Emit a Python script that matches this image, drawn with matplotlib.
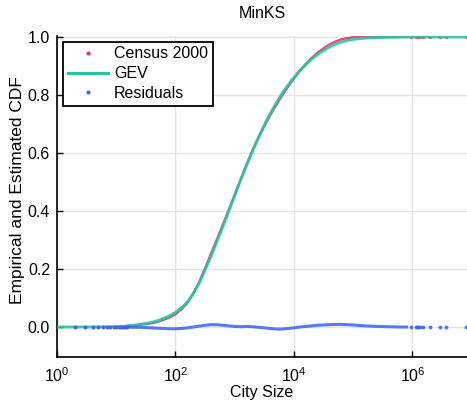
import matplotlib
matplotlib.use("Agg")
import matplotlib.pyplot as plt
from matplotlib.lines import Line2D
from matplotlib.ticker import FixedLocator, NullLocator, FormatStrFormatter
import numpy as np

# log10 city size grid and fitted GEV CDF on that grid
log_size = [0.0, 0.5, 1.0, 1.1, 1.2, 1.3, 1.4, 1.5, 1.6, 1.7, 1.8, 1.9,
            2.0, 2.1, 2.2, 2.3, 2.4, 2.5, 2.6, 2.7, 2.8, 2.9,
            3.0, 3.1, 3.2, 3.3, 3.4, 3.5, 3.6, 3.7, 3.8, 3.9,
            4.0, 4.1, 4.2, 4.3, 4.4, 4.5, 4.6, 4.7, 4.8, 4.9,
            5.0, 5.2, 5.4, 5.6, 5.8, 5.9, 6.2, 6.9]
gev_cdf = [0.000, 0.000, 0.001, 0.002, 0.004, 0.006, 0.009, 0.012, 0.016, 0.022, 0.030, 0.039,
           0.050, 0.066, 0.086, 0.115, 0.152, 0.197, 0.245, 0.295, 0.347, 0.400,
           0.454, 0.507, 0.558, 0.607, 0.653, 0.696, 0.736, 0.772, 0.805, 0.834,
           0.860, 0.884, 0.905, 0.924, 0.940, 0.954, 0.966, 0.975, 0.983, 0.988,
           0.992, 0.996, 0.998, 0.999, 1.000, 1.000, 1.000, 1.000]

# empirical minus fitted CDF on the dense part of the grid (log10 size 1.2 .. 5.9)
resid_log_size = [1.2, 1.3, 1.4, 1.5, 1.6, 1.7, 1.8, 1.9,
                  2.0, 2.1, 2.2, 2.3, 2.4, 2.5, 2.6, 2.7, 2.8, 2.9,
                  3.0, 3.1, 3.2, 3.3, 3.4, 3.5, 3.6, 3.7, 3.8, 3.9,
                  4.0, 4.1, 4.2, 4.3, 4.4, 4.5, 4.6, 4.7, 4.8, 4.9,
                  5.0, 5.2, 5.4, 5.6, 5.8, 5.9]
residual = [0.000, -0.001, -0.001, -0.002, -0.003, -0.004, -0.005, -0.006,
            -0.006, -0.005, -0.003, 0.000, 0.003, 0.006, 0.008, 0.008, 0.006, 0.004,
            0.002, 0.001, 0.002, 0.001, -0.001, -0.003, -0.005, -0.007, -0.007, -0.005,
            -0.003, 0.000, 0.002, 0.004, 0.006, 0.007, 0.008, 0.009, 0.009, 0.008,
            0.007, 0.004, 0.002, 0.001, 0.000, 0.000]

# sparse tails: smallest places and the largest cities
small_sizes = [2, 3, 4, 5, 6, 7, 8, 9, 10, 11, 12, 13, 14, 15]
large_sizes = [951270, 1144646, 1188580, 1223400, 1321045, 1517550,
               1953631, 2896016, 3694820, 8008278]

PINK = "#e8306e"
TEAL = "#28c69c"
BLUE = "#3d62f4"

plt.rcParams["font.family"] = ["Liberation Sans", "DejaVu Sans"]

fig = plt.figure(figsize=(4.67, 4.01), dpi=100)
ax = fig.add_axes([0.122, 0.110, 0.878, 0.800])

gev_lookup = dict(zip(log_size, gev_cdf))
x_resid = 10.0 ** np.array(resid_log_size)
emp_cdf = np.array([gev_lookup[v] for v in resid_log_size]) + np.array(residual)

# empirical CDF (Census 2000)
ax.plot(x_resid, emp_cdf, color=PINK, lw=1.7, alpha=0.9, solid_capstyle="round", zorder=3)
ax.plot(small_sizes, np.zeros(len(small_sizes)), ls="none", marker="o", ms=1.5,
        color=PINK, alpha=0.8, zorder=3)
ax.plot(large_sizes, np.ones(len(large_sizes)), ls="none", marker="o", ms=1.5,
        color=PINK, alpha=0.8, zorder=3)

# fitted GEV CDF
ax.plot(10.0 ** np.array(log_size), gev_cdf, color=TEAL, lw=2.1, alpha=0.9, zorder=4)

# residuals
ax.plot(x_resid, residual, color=BLUE, lw=2.2, alpha=0.85, zorder=5)
ax.plot(small_sizes, np.zeros(len(small_sizes)), ls="none", marker="o", ms=1.8,
        color=BLUE, alpha=0.8, zorder=5)
ax.plot(large_sizes, np.zeros(len(large_sizes)), ls="none", marker="o", ms=1.8,
        color=BLUE, alpha=0.8, zorder=5)

ax.set_xscale("log")
ax.set_xlim(1, 10 ** 6.92)
ax.set_ylim(-0.103, 1.003)

ax.xaxis.set_major_locator(FixedLocator([1, 1e2, 1e4, 1e6]))
ax.xaxis.set_minor_locator(NullLocator())
ax.yaxis.set_major_locator(FixedLocator([0.0, 0.2, 0.4, 0.6, 0.8, 1.0]))
ax.yaxis.set_major_formatter(FormatStrFormatter("%.1f"))

ax.grid(True, color="#e4e4e4", lw=1.0, zorder=0)
ax.set_axisbelow(True)
for side in ("top", "right"):
    ax.spines[side].set_visible(False)
for side in ("left", "bottom"):
    ax.spines[side].set_linewidth(1.2)
ax.tick_params(direction="in", length=4, width=1.0, labelsize=11.5)
ax.tick_params(axis="x", pad=7)
ax.tick_params(axis="y", pad=5)

ax.set_title("MinKS", fontsize=11.5, pad=13)
ax.set_xlabel("City Size", fontsize=11.5, labelpad=0)
ax.set_ylabel("Empirical and Estimated CDF", fontsize=12.5)
ax.yaxis.set_label_coords(-0.078, 0.52)

handles = [
    Line2D([], [], ls="none", marker="o", ms=2, color=PINK),
    Line2D([], [], color=TEAL, lw=2.2),
    Line2D([], [], ls="none", marker="o", ms=2, color=BLUE),
]
leg = ax.legend(handles, ["Census 2000", "GEV", "Residuals"], loc="upper left",
                bbox_to_anchor=(0.015, 0.983), fontsize=11.5, frameon=True,
                fancybox=False, edgecolor="black", framealpha=1.0,
                handlelength=2.5, handletextpad=0.4, borderpad=0.3,
                labelspacing=0.3, borderaxespad=0.0)
leg.get_frame().set_linewidth(1.3)

fig.savefig("out.png", dpi=100)
